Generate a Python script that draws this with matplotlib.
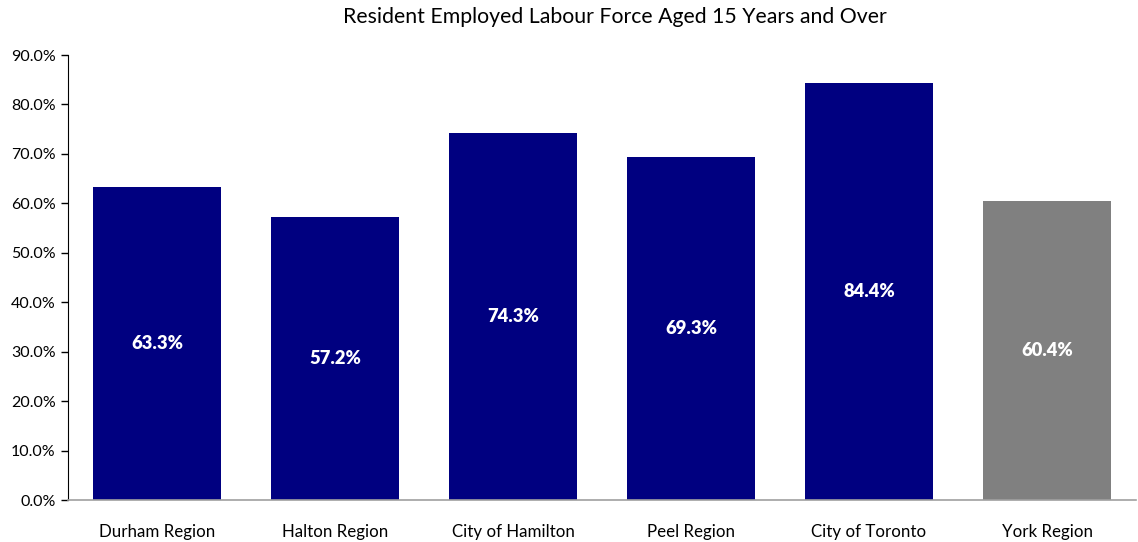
import matplotlib
matplotlib.use("Agg")
import matplotlib.pyplot as plt
from matplotlib.ticker import FuncFormatter

categories = ["Durham Region", "Halton Region", "City of Hamilton", "Peel Region", "City of Toronto", "York Region"]
values = [63.3, 57.2, 74.3, 69.3, 84.4, 60.4]
colors = ["#000080", "#000080", "#000080", "#000080", "#000080", "#808080"]
yticks = [0, 10, 20, 30, 40, 50, 60, 70, 80, 90]

plt.rcParams['font.family'] = ['Lato', 'DejaVu Sans']

fig = plt.figure(figsize=(11.38, 5.42), dpi=100)
ax = fig.add_axes([68/1138, 42/542, (1136-68)/1138, (500-55)/542])

x = list(range(len(categories)))
bars = ax.bar(x, values, width=0.72, color=colors, zorder=2)
for xi, v in zip(x, values):
    ax.text(xi, v/2, f"{v:.1f}%", ha='center', va='center', color='white',
            fontsize=13.2, fontweight='heavy')

ax.set_xlim(-0.5, len(categories)-0.5)
ax.set_ylim(0, 90)
ax.set_yticks(yticks)
ax.yaxis.set_major_formatter(FuncFormatter(lambda v, p: f"{v:.1f}%"))
ax.set_xticks(x)
ax.set_xticklabels(categories)
ax.tick_params(axis='x', length=0, pad=17, labelsize=12.2, colors='black')
ax.tick_params(axis='y', length=5, width=1, direction='out', labelsize=11.5, pad=4)
ax.spines['top'].set_visible(False)
ax.spines['right'].set_visible(False)
ax.spines['left'].set_color('black')
ax.spines['bottom'].set_color('#a0a0a0')
ax.spines['bottom'].set_linewidth(1.2)

fig.text(615/1138, 1 - 17/542, "Resident Employed Labour Force Aged 15 Years and Over",
         ha='center', va='center', fontsize=15.3)

fig.savefig("out.png", dpi=100)
